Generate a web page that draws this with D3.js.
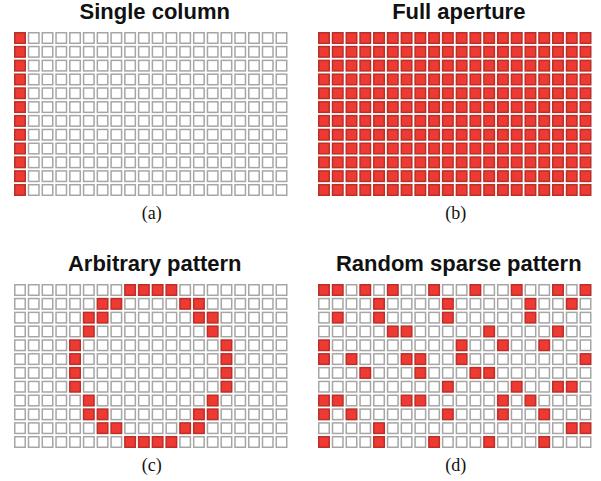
<!DOCTYPE html>
<html>
<head>
<meta charset="utf-8">
<script src="https://cdn.jsdelivr.net/npm/d3@7/dist/d3.min.js"></script>
<style>
  html, body { margin: 0; padding: 0; background: #fff; }
  svg { display: block; }
</style>
</head>
<body>
<svg id="chart" width="601" height="481"></svg>
<script>
// Array layout: 20 columns x 12 rows of elements
const nCols = 20;
const nRows = 12;

const titles = ["Single column", "Full aperture", "Arbitrary pattern", "Random sparse pattern"];
const captions = ["(a)", "(b)", "(c)", "(d)"];

// Active elements per row, listed as column indices
const singleColumn = d3.range(nRows).map(() => [0]);
const fullAperture = d3.range(nRows).map(() => d3.range(nCols));
const arbitraryPattern = [
  [8, 9, 10, 11],
  [6, 7, 12, 13],
  [5, 6, 13, 14],
  [5, 14],
  [4, 15],
  [4, 15],
  [4, 15],
  [4, 15],
  [5, 14],
  [5, 6, 13, 14],
  [6, 7, 12, 13],
  [8, 9, 10, 11]
];
const randomSparse = [
  [0, 1, 3, 5, 8, 11, 14, 17, 19],
  [4, 9, 15, 18],
  [1, 4, 9, 15],
  [5, 6, 12, 17],
  [0, 10, 13, 16],
  [0, 2, 6, 7, 10, 19],
  [3, 7, 11, 12],
  [9, 14, 17, 18],
  [0, 1, 6, 7, 13, 15],
  [0, 2, 9, 13, 16],
  [4, 18, 19],
  [0, 4, 8, 12, 16]
];
const patterns = [singleColumn, fullAperture, arbitraryPattern, randomSparse];

const svg = d3.select("#chart");

// Panel origins (top-left of each element grid)
const panelX = [14, 318];
const panelY = [32, 284];
const gridW = 273.5;
const gridH = 164;

const activeFill = "#ee3a33";
const activeStroke = "#b83029";
const idleFill = "#ffffff";
const idleStroke = "#a6a6a6";

patterns.forEach((pattern, i) => {
  const px = panelX[i % 2];
  const py = panelY[Math.floor(i / 2)];

  const x = d3.scaleBand().domain(d3.range(nCols)).range([px, px + gridW]).paddingInner(0.13).paddingOuter(0);
  const y = d3.scaleBand().domain(d3.range(nRows)).range([py, py + gridH]).paddingInner(0.13).paddingOuter(0);

  const cells = [];
  for (let r = 0; r < nRows; r++) {
    const on = new Set(pattern[r]);
    for (let c = 0; c < nCols; c++) cells.push({ r, c, on: on.has(c) });
  }

  const g = svg.append("g");
  g.selectAll("rect")
    .data(cells)
    .join("rect")
    .attr("x", d => x(d.c) + 0.75)
    .attr("y", d => y(d.r) + 0.75)
    .attr("width", x.bandwidth() - 1.5)
    .attr("height", y.bandwidth() - 1.5)
    .attr("fill", d => d.on ? activeFill : idleFill)
    .attr("stroke", d => d.on ? activeStroke : idleStroke)
    .attr("stroke-width", 1.5);

  const cx = px + gridW / 2 + 4;

  svg.append("text")
    .attr("x", cx)
    .attr("y", py - 13)
    .attr("text-anchor", "middle")
    .attr("font-family", "'Liberation Sans', Arial, Helvetica, sans-serif")
    .attr("font-weight", "bold")
    .attr("font-size", 22)
    .attr("fill", "#111")
    .text(titles[i]);

  svg.append("text")
    .attr("x", px + gridW / 2 + 1)
    .attr("y", py + gridH + 23)
    .attr("text-anchor", "middle")
    .attr("font-family", "'Liberation Serif', 'Times New Roman', serif")
    .attr("font-size", 18)
    .attr("fill", "#111")
    .text(captions[i]);
});
</script>
</body>
</html>
